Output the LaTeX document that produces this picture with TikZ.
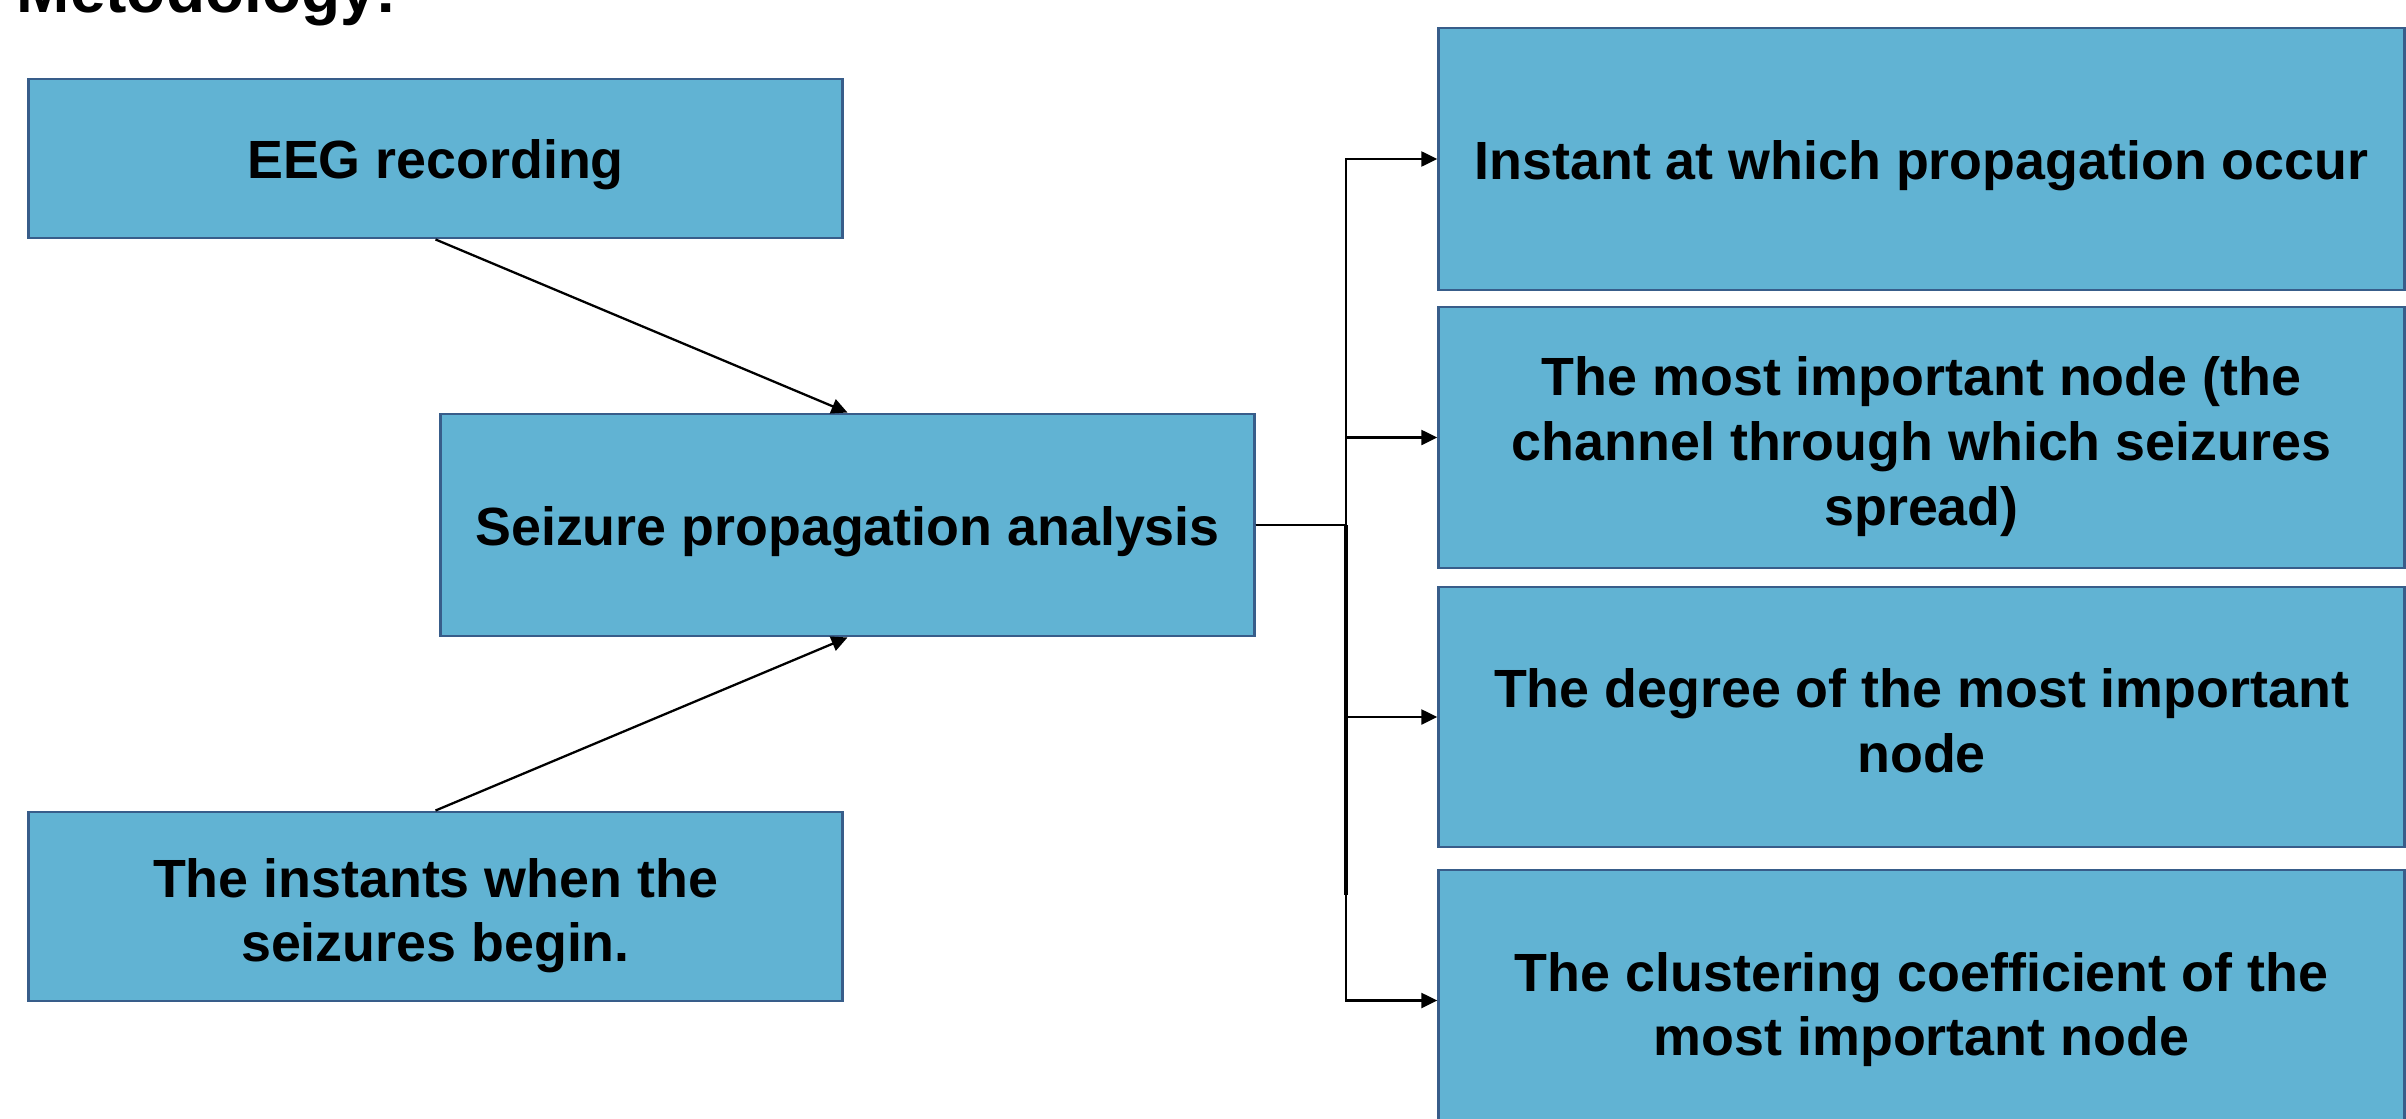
\documentclass[tikz,border=0pt]{standalone}
\usepackage{fontspec}
\setmainfont{Liberation Sans}
\usetikzlibrary{arrows.meta}
\definecolor{boxfill}{RGB}{97,179,211}
\definecolor{boxline}{RGB}{56,93,138}
\newcommand{\topstrut}{\rule{0pt}{16.5pt}}
\newcommand{\botstrut}{\rule[-3.4pt]{0pt}{3.4pt}}
\begin{document}
\begin{tikzpicture}[x=0.01cm,y=-0.01cm,
  box/.style={draw=boxline, line width=0.8pt, fill=boxfill, rectangle, inner sep=0pt,
    align=center, font=\bfseries\fontsize{15.3}{18.4}\selectfont,
    execute at begin node={\rule{0pt}{15pt}},
    execute at end node={\rule[-3.4pt]{0pt}{3.4pt}}},
  conn/.style={line width=0.65pt, draw=black},
  arr/.style={conn, -{Triangle[length=0.16cm,width=0.15cm]}}]
\useasboundingbox (0,0) rectangle (2406,1118);
\node[anchor=base west, inner sep=0pt, font=\bfseries\fontsize{18.2}{21}\selectfont] (title) at (16,12) {Metodology:};
\node[box, minimum width=8.13cm, minimum height=1.59cm] (eeg) at (435.5,158.5) {EEG recording};
\node[box, minimum width=8.13cm, minimum height=2.22cm] (sez) at (847.5,525) {Seizure propagation analysis};
\node[box, minimum width=8.13cm, minimum height=1.89cm] (inst) at (435.5,906.5) {\topstrut The instants when the\\seizures begin.\botstrut};
\node[box, minimum width=9.65cm, minimum height=2.62cm] (r1) at (1921.5,159) {Instant at which propagation occur};
\node[box, minimum width=9.65cm, minimum height=2.61cm] (r2) at (1921.5,437.5) {\topstrut The most important node (the\\channel through which seizures\\spread)\botstrut};
\node[box, minimum width=9.65cm, minimum height=2.60cm] (r3) at (1921.5,717) {\topstrut The degree of the most important\\node\botstrut};
\node[box, minimum width=9.65cm, minimum height=2.61cm] (r4) at (1921.5,1000.5) {\topstrut The clustering coefficient of the\\most important node\botstrut};
\coordinate (j) at (1346,525);
\coordinate (tk) at (1346,895);
\draw[arr] (eeg.south) -- (sez.north);
\draw[arr] (inst.north) -- (sez.south);
\draw[arr] (sez.east) -- (j) |- (r1.west);
\draw[arr] (sez.east) -- (j) |- (r2.west);
\draw[arr] (sez.east) -- (j) |- (r3.west);
\draw[arr] (sez.east) -- (j) |- (r4.west);
\draw[line width=1.3pt] (j) -- (tk);
\end{tikzpicture}
\end{document}
